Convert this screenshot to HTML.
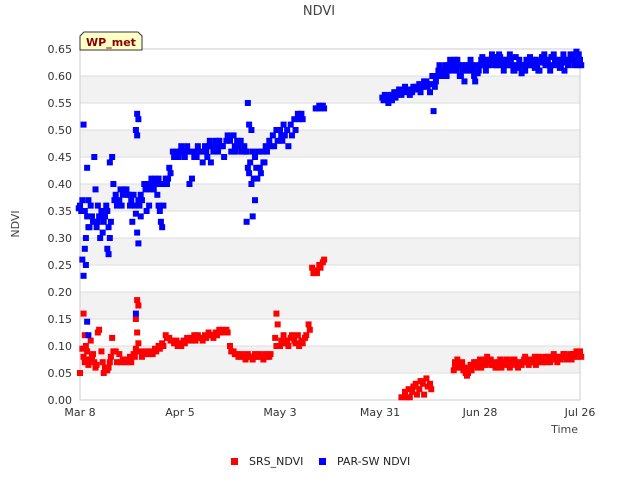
<!DOCTYPE html>
<html><head><meta charset="utf-8"><style>
body{margin:0;background:#fff;width:640px;height:480px;overflow:hidden;font-family:"DejaVu Sans","Liberation Sans",sans-serif;}
svg text{font-family:"DejaVu Sans","Liberation Sans",sans-serif;}
</style></head><body>
<svg id="chart" width="640" height="480">
<text x="319" y="15" text-anchor="middle" font-size="13" fill="#444">NDVI</text>
<g id="bands"></g><g id="grid"></g>
<rect x="80" y="49" width="500" height="351" fill="none" stroke="#ccc"/>
<g id="yticks"></g><g id="xticks"></g>
<g id="marks"></g>
<text x="19" y="224" transform="rotate(-90 19 224)" text-anchor="middle" font-size="11" fill="#444">NDVI</text>
<text x="578" y="433" text-anchor="end" font-size="11" fill="#444">Time</text>
<g>
<path d="M84,32 L138,32 L142,36 L142,50 L80,50 L80,36 Z" fill="#ffffc8" stroke="#333" stroke-width="1"/>
<text x="111" y="46" text-anchor="middle" font-size="11" font-weight="bold" fill="#8b0000">WP_met</text>
</g>
<g><rect x="231" y="458" width="7" height="7" fill="#f00"/><text x="249" y="465" font-size="11" fill="#222">SRS_NDVI</text></g>
<g><rect x="319" y="458" width="7" height="7" fill="#00f"/><text x="337" y="465" font-size="11" fill="#222">PAR-SW NDVI</text></g>
</svg>
<script>
const yTicks=[0,0.05,0.1,0.15,0.2,0.25,0.3,0.35,0.4,0.45,0.5,0.55,0.6,0.65];
const xTickLabels=["Mar 8","Apr 5","May 3","May 31","Jun 28","Jul 26"];
const xTickDays=[0,28,56,84,112,140];
// each row: [dayOffset, reading, reading, ...]
const parRows=[[0,0.36,0.35,0.355],[1,0.51,0.28,0.26,0.23,0.35,0.37],[2,0.34,0.32,0.30,0.43,0.37,0.25,0.145,0.12],[3,0.36,0.34,0.32],[4,0.45,0.39,0.33],[5,0.33,0.34,0.32,0.36],[6,0.35,0.31,0.30],[7,0.34,0.36,0.33],[8,0.32,0.30,0.28,0.27,0.44,0.35],[9,0.45,0.40,0.33],[10,0.38,0.36,0.37],[11,0.37,0.39],[12,0.38,0.39,0.36],[13,0.39,0.38],[14,0.36,0.37,0.38],[15,0.38,0.36,0.33],[16,0.53,0.52,0.50,0.49,0.37,0.345,0.31,0.29,0.16],[17,0.38,0.37,0.36,0.34],[18,0.40,0.39],[19,0.40,0.36,0.35],[20,0.41,0.40,0.39],[21,0.41,0.40,0.39],[22,0.41,0.40,0.38,0.36,0.35],[23,0.40,0.36,0.33,0.32],[24,0.41,0.40],[25,0.43,0.42,0.41],[26,0.46,0.45],[27,0.46,0.45],[28,0.46,0.47,0.45],[29,0.46,0.45],[30,0.47,0.46],[31,0.46,0.41,0.40],[32,0.45,0.46],[33,0.47,0.46,0.45],[34,0.46,0.44],[35,0.47,0.46],[36,0.47,0.48,0.45],[37,0.47,0.46,0.44],[38,0.48,0.47],[39,0.48,0.47,0.46],[40,0.47,0.45],[41,0.48,0.49],[42,0.48,0.46],[43,0.49,0.47],[44,0.48,0.47,0.46],[45,0.48,0.46],[46,0.47,0.46],[47,0.55,0.51,0.46,0.43,0.42,0.33],[48,0.50,0.46,0.44,0.40,0.34],[49,0.45,0.43,0.41,0.37],[50,0.46,0.43,0.41],[51,0.46,0.44,0.42],[52,0.47,0.46,0.44],[53,0.48,0.47],[54,0.49,0.47],[55,0.50,0.48],[56,0.50,0.49],[57,0.51,0.49,0.48],[58,0.50,0.47],[59,0.51,0.49],[60,0.52,0.50],[61,0.53,0.52],[62,0.53,0.52],[66,0.54,0.54],[67,0.545,0.54],[68,0.545,0.54],[85,0.555,0.565,0.56],[86,0.56,0.55],[87,0.565,0.555],[88,0.57,0.56],[89,0.57,0.575],[90,0.565,0.575],[91,0.58,0.57],[92,0.575,0.565],[93,0.57,0.58],[94,0.58,0.575],[95,0.585,0.57],[96,0.58,0.59],[97,0.59,0.58],[98,0.57,0.585],[99,0.535,0.58,0.60],[100,0.60,0.61,0.59],[101,0.61,0.60,0.62],[102,0.61,0.62,0.60],[103,0.62,0.61,0.60],[104,0.62,0.61,0.63],[105,0.63,0.61,0.62],[106,0.62,0.60,0.63],[107,0.61,0.62,0.60],[108,0.62,0.61,0.59],[109,0.62,0.63,0.61],[110,0.61,0.60,0.62],[111,0.62,0.605,0.59],[112,0.62,0.63,0.61],[113,0.63,0.62,0.635],[114,0.62,0.63,0.61],[115,0.63,0.64,0.62],[116,0.635,0.62,0.63],[117,0.63,0.64,0.62],[118,0.62,0.63,0.635],[119,0.63,0.62,0.61],[120,0.63,0.64,0.62],[121,0.62,0.61,0.63],[122,0.635,0.62,0.61],[123,0.63,0.62,0.615],[124,0.62,0.61,0.605],[125,0.63,0.62,0.61],[126,0.635,0.62,0.625],[127,0.63,0.615,0.62],[128,0.62,0.61,0.63],[129,0.625,0.635,0.61],[130,0.64,0.62,0.63],[131,0.63,0.62,0.625],[132,0.635,0.62,0.61],[133,0.63,0.625,0.64],[134,0.62,0.615,0.63],[135,0.63,0.64,0.62],[136,0.625,0.63,0.61],[137,0.63,0.64,0.62],[138,0.64,0.62,0.63],[139,0.645,0.62,0.63],[140,0.63,0.62,0.64]];
const srsRows=[[0,0.05],[1,0.16,0.12,0.095,0.08,0.07],[2,0.09,0.065,0.10],[3,0.11,0.08,0.075],[4,0.07,0.06,0.085],[5,0.125,0.13,0.065],[6,0.09,0.07],[7,0.06,0.055,0.05],[8,0.06,0.07,0.055],[9,0.115,0.09,0.08],[10,0.09,0.07],[11,0.085,0.07],[12,0.075,0.07],[13,0.075,0.07],[14,0.08,0.07],[15,0.085,0.08],[16,0.185,0.175,0.15,0.125,0.105,0.095,0.09],[17,0.09,0.08],[18,0.085,0.09],[19,0.09,0.085],[20,0.09,0.085],[21,0.095,0.09],[22,0.10,0.095],[23,0.105,0.10],[24,0.12,0.115],[25,0.115,0.11],[26,0.11,0.105],[27,0.11,0.10],[28,0.105,0.10],[29,0.11,0.105],[30,0.115,0.11],[31,0.115,0.11],[32,0.12,0.11],[33,0.12,0.115],[34,0.115,0.11],[35,0.12,0.115],[36,0.125,0.12],[37,0.12,0.115],[38,0.125,0.12],[39,0.13,0.125],[40,0.13,0.125],[41,0.13,0.125],[42,0.10,0.09],[43,0.09,0.085],[44,0.085,0.08],[45,0.08,0.085],[46,0.08,0.075],[47,0.085,0.08],[48,0.08,0.075],[49,0.085,0.08],[50,0.08,0.085],[51,0.08,0.075],[52,0.085,0.08],[53,0.08,0.085],[55,0.16,0.14,0.115,0.10],[56,0.10,0.11],[57,0.12,0.105],[58,0.11,0.10],[59,0.115,0.12],[60,0.11,0.105],[61,0.12,0.10],[62,0.11,0.105],[63,0.115,0.12],[64,0.14,0.13],[65,0.245,0.235],[66,0.24,0.235],[67,0.25,0.245],[68,0.255,0.26],[90,0.005],[91,0.015,0.005],[92,0.02,0.005],[93,0.015,0.025],[94,0.03,0.01],[95,0.02,0.035],[96,0.03,0.01],[97,0.04,0.025],[98,0.03,0.02],[105,0.07,0.06,0.055,0.065],[106,0.065,0.06,0.075],[107,0.07,0.055,0.06],[108,0.05,0.045,0.06],[109,0.055,0.065,0.05],[110,0.065,0.07,0.055],[111,0.07,0.06,0.065],[112,0.075,0.06,0.065],[113,0.07,0.065,0.075],[114,0.08,0.07,0.065],[115,0.075,0.065,0.07],[116,0.07,0.06,0.065],[117,0.065,0.07,0.06],[118,0.06,0.07,0.075],[119,0.07,0.075,0.065],[120,0.065,0.06,0.07],[121,0.075,0.07,0.065],[122,0.07,0.065,0.075],[123,0.065,0.07,0.06],[124,0.07,0.075,0.065],[125,0.075,0.07,0.08],[126,0.07,0.075,0.065],[127,0.075,0.08,0.07],[128,0.07,0.075,0.065],[129,0.075,0.07,0.08],[130,0.075,0.08,0.07],[131,0.08,0.075,0.07],[132,0.075,0.08,0.07],[133,0.08,0.075,0.085],[134,0.075,0.08,0.07],[135,0.08,0.085,0.075],[136,0.08,0.075,0.085],[137,0.08,0.085,0.075],[138,0.085,0.08,0.075],[139,0.09,0.08,0.085],[140,0.09,0.08,0.085]];

const NS="http://www.w3.org/2000/svg";
const X0=80,X1=580,Y0=400,Y1=49,DMAX=140,VMAX=0.65;
function xs(d){return X0+d*(X1-X0)/DMAX;}
function ys(v){return Y0-v*(Y0-Y1)/VMAX;}
function mk(tag,attrs,parent){const e=document.createElementNS(NS,tag);for(const k in attrs)e.setAttribute(k,attrs[k]);parent.appendChild(e);return e;}
const bands=document.getElementById('bands'),grid=document.getElementById('grid'),yt=document.getElementById('yticks'),xt=document.getElementById('xticks'),marks=document.getElementById('marks');
for(let i=0;i<yTicks.length-1;i++){
 if(i%2===1){const b=mk('rect',{x:X0,y:ys(yTicks[i+1]),width:X1-X0,height:ys(yTicks[i])-ys(yTicks[i+1]),fill:'#f2f2f2'},bands);
 
 }
}
yTicks.forEach(v=>{
 const l=mk('line',{x1:X0,x2:X1,y1:ys(v),y2:ys(v),stroke:'#ddd'},grid);
 
 
 const t=mk('text',{x:72,y:ys(v)+4,'text-anchor':'end','font-size':11,fill:'#333'},yt);
 t.textContent=v.toFixed(2);
 
 
});
xTickLabels.forEach((lab,i)=>{
 const t=mk('text',{x:xs(xTickDays[i]),y:416,'text-anchor':'middle','font-size':11,fill:'#333'},xt);
 t.textContent=lab;
 
 
});
function draw(rows,color,name){
 rows.forEach(row=>{
  const d=row[0];
  for(let j=1;j<row.length;j++){
   const v=row[j];
   const off=(j%3-1)*0.35;
   const r=mk('rect',{x:xs(d+off)-3,y:ys(v)-3,width:6,height:6,fill:color},marks);
   
   
  }
 });
}
draw(srsRows,'#f00','srs-ndvi-point');
draw(parRows,'#00f','par-sw-ndvi-point');
</script>
</body></html>
